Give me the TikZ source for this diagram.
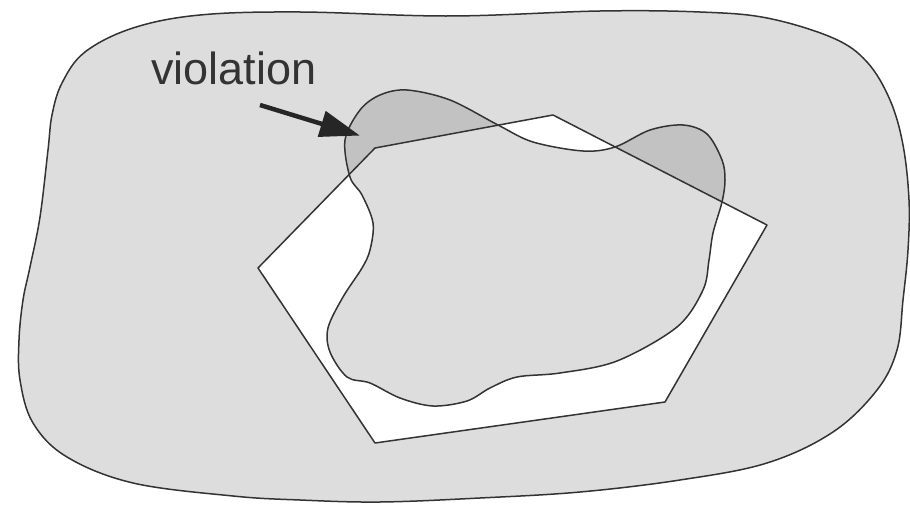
\documentclass[tikz,border=0pt]{standalone}
\usepackage{fontspec}
\setmainfont{Liberation Sans}
\usetikzlibrary{arrows.meta}
\definecolor{regionfill}{gray}{0.865}
\definecolor{violfill}{gray}{0.76}
\begin{document}
\begin{tikzpicture}[x=1pt,y=-1pt,
  outline/.style={draw=black!80, line width=1.5pt, line join=round},
  pointer/.style={line width=4.5pt, draw=black!85,
    -{Triangle[length=40pt,width=26pt]}, shorten >=-2pt},
  labeltext/.style={font=\fontsize{45}{50}\selectfont, text=black!80,
    inner sep=0pt, anchor=base}]
\useasboundingbox (0,0) rectangle (910,505);

% outer feasible region
\def\outerblob{plot[smooth cycle, tension=0.6] coordinates {
  (48,150) (52,115) (62,83) (85,52) (133,28) (200,15) (300,12) (450,16)
  (600,11) (700,12) (767,18) (833,38) (867,62) (890,100) (903,145)
  (909,200) (908,250) (903,300) (897,350) (877,390) (833,432) (767,463)
  (680,480) (580,492) (480,498) (380,502) (300,500) (233,496) (133,483)
  (67,457) (33,423) (20,380) (19,340) (23,300) (30,267) (40,217)}}
% hexagonal approximation
\def\hexa{(375,148) -- (553,115) -- (767,225) -- (665,402) -- (375,443) -- (258,268) -- cycle}
% inner region
\def\innerblob{plot[smooth cycle, tension=0.55] coordinates {
  (345,140) (360,110) (380,95) (407,90) (450,100) (498,125) (533,142)
  (583,151) (615,147) (650,130) (683,125) (707,134) (722,160) (725,180)
  (722,202) (713,233) (709,260) (703,290) (677,327) (617,361) (560,373)
  (517,377) (490,388) (467,401) (433,406) (400,398) (370,383) (347,377)
  (330,352) (328,328) (343,297) (362,268) (370,250) (373,223) (362,195)
  (350,177)}}

\fill[regionfill] \outerblob;
\fill[white] \hexa;
\fill[violfill] \innerblob;
\begin{scope}
  \clip \hexa;
  \fill[regionfill] \innerblob;
\end{scope}

\draw[outline] \outerblob;
\draw[outline] \hexa;
\draw[outline] \innerblob;

\node[labeltext] (label) at (234,85) {violation};
\coordinate (tail) at (260,105);
\coordinate (tip) at (358,135);
\draw[pointer] (tail) -- (tip);
\end{tikzpicture}
\end{document}
